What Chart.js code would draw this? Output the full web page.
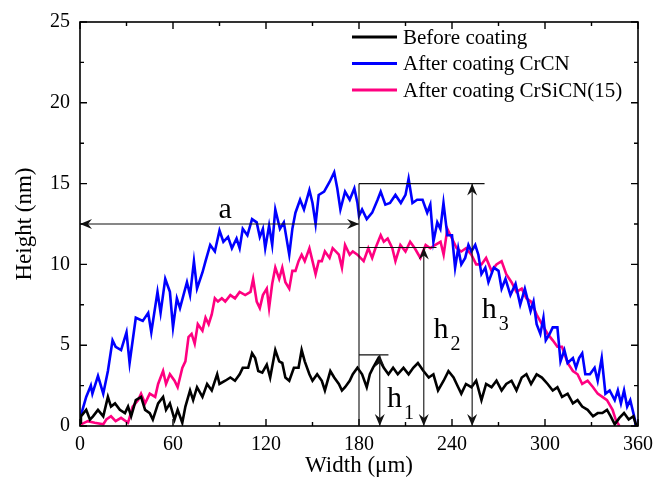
<!DOCTYPE html>
<html lang="en">
<head>
<meta charset="UTF-8">
<title>Surface profile</title>
<style>
  body { margin: 0; background: #ffffff; }
  #wrap { width: 665px; height: 485px; }
</style>
<script src="https://cdn.jsdelivr.net/npm/chart.js"></script>
</head>
<body>
<div id="wrap"><canvas id="profileChart" width="665" height="485"></canvas></div>
<script>
// ---- data (width in um, height in nm) ----
const seriesNames = ['Before coating', 'After coating CrCN', 'After coating CrSiCN(15)'];
const seriesColors = ['#000000', '#0000ff', '#ff0080'];

const beforeX = [0, 0.6, 4, 6.4, 8.4, 11.6, 15, 18, 20, 22.6, 25.7, 29, 31, 33, 36, 39.4, 42, 45, 47, 50.4, 53.6, 55.5, 58, 61, 63, 66, 68, 71, 73, 75.5, 79, 82, 85, 88.5, 90, 93.7, 97, 100, 103, 105, 108.5, 111, 113, 115, 117.6, 120.5, 122.7, 126, 128.5, 130.5, 132.5, 135, 138, 141, 143, 145, 148, 150, 153, 156, 158, 161.5, 164, 167, 169, 171, 174, 176, 179, 182, 185, 187, 189, 192.5, 196, 199, 202, 205, 208.7, 212, 215, 218, 221.6, 225, 228, 231, 234.6, 237.7, 241, 244, 246, 249, 252.5, 255.6, 259, 262, 265.5, 268.7, 272, 275, 278.4, 281.6, 285, 288, 291, 294.6, 298, 301.7, 305, 308, 311, 314.6, 318, 321, 324, 327.5, 331, 334, 337, 340, 342.4, 345, 348, 351, 354, 357, 359];
const beforeY = [0.2, 0.6, 1.0, 0.4, 0.6, 1.0, 0.6, 1.8, 1.2, 1.4, 1.0, 0.8, 1.2, 0.6, 1.6, 1.8, 1.0, 0.8, 0.4, 1.4, 1.8, 1.0, 1.4, 0.4, 1.0, 0.2, 1.2, 2.2, 1.6, 2.4, 1.8, 2.6, 2.2, 3.2, 2.6, 2.8, 3.0, 2.8, 3.2, 3.6, 3.6, 4.5, 4.2, 3.4, 3.3, 3.8, 3.0, 4.7, 4.0, 3.9, 3.0, 2.8, 3.6, 3.6, 4.7, 4.0, 3.2, 2.8, 3.2, 2.8, 2.2, 3.4, 3.0, 2.6, 2.2, 2.4, 2.8, 3.2, 3.6, 3.2, 2.4, 3.2, 3.6, 4.2, 3.6, 3.2, 3.6, 3.2, 3.6, 3.2, 3.6, 3.9, 3.4, 3.0, 3.2, 2.2, 2.8, 3.4, 3.0, 2.4, 2.0, 2.6, 2.4, 2.8, 1.6, 2.6, 2.4, 2.8, 2.2, 2.6, 2.8, 2.2, 3.0, 3.2, 2.6, 3.2, 3.0, 2.6, 2.2, 2.4, 1.8, 2.0, 1.4, 1.6, 1.2, 1.0, 0.6, 0.8, 0.8, 1.0, 0.6, 0.1, 0.5, 0.8, 0.4, 0.6, 0];

const crcnX = [0, 1, 4, 7, 8, 11.6, 15, 18, 21, 23, 26.5, 30, 32, 36, 40.5, 44, 46, 50, 52, 55, 58, 60, 62.5, 64.5, 69, 71, 73.5, 75.5, 79, 81, 84, 87, 90, 92.5, 95.5, 98, 101, 103, 105, 108, 111, 114, 116, 118, 119.5, 122, 124, 126, 129, 131.5, 135, 137, 139, 142, 144.5, 148, 150, 152, 154, 157.5, 161, 164, 166, 168, 171, 174, 177, 179, 180, 182, 185, 188.5, 192, 194, 197, 200, 203.5, 207, 210, 212, 214.5, 217.5, 221, 224, 226, 228, 230.5, 232.5, 234.5, 237, 240, 242, 244, 246, 248.5, 250.6, 252.5, 255, 257, 259, 261.5, 263.5, 267, 270, 272, 274.5, 277.7, 281, 284, 287, 290.7, 292.6, 294.6, 297, 299, 300.5, 303, 305, 308, 310, 312.5, 314.6, 318, 320, 322, 324, 326, 329, 332, 334, 336.6, 339, 341.7, 345, 347, 349, 351, 353, 355, 358, 358.5];
const crcnY = [0.4, 0.8, 1.8, 2.5, 2.0, 3.1, 2.0, 3.4, 5.3, 4.9, 4.7, 5.8, 3.9, 6.7, 6.5, 7.0, 5.8, 8.3, 7.0, 9.1, 8.3, 6.1, 7.9, 7.3, 8.9, 8.1, 10.2, 8.5, 9.5, 10.2, 11.2, 10.8, 12.1, 11.4, 11.7, 11.0, 11.6, 11.0, 12.2, 11.8, 12.8, 12.6, 11.7, 12.2, 11.0, 12.4, 11.2, 13.4, 12.2, 12.6, 10.6, 12.2, 13.2, 14.0, 13.4, 14.6, 13.8, 12.5, 14.3, 14.5, 15.1, 15.7, 14.7, 13.4, 14.5, 14.0, 14.7, 13.8, 13.0, 13.4, 12.8, 13.2, 14.0, 14.5, 13.7, 13.8, 14.3, 13.8, 14.3, 15.3, 13.8, 14.0, 14.0, 13.2, 13.7, 11.4, 12.6, 12.2, 13.8, 11.8, 11.8, 9.8, 11.0, 10.0, 10.4, 11.2, 10.8, 11.2, 10.6, 9.4, 9.8, 8.9, 9.8, 9.6, 8.5, 9.1, 8.1, 8.8, 7.5, 8.5, 7.1, 7.7, 6.3, 5.7, 6.7, 5.3, 5.7, 6.1, 6.1, 4.0, 4.7, 3.9, 4.2, 3.6, 4.2, 4.5, 3.2, 3.2, 3.6, 2.8, 4.2, 2.0, 2.2, 1.6, 2.2, 1.4, 2.2, 1.2, 1.6, 0.4, 0];

const crsicnX = [0, 0.6, 5, 9.5, 15, 17, 20, 23, 26.5, 31, 34, 37.5, 39.4, 42, 45, 48.5, 50.4, 53.6, 55.5, 58, 61, 63, 66, 68, 70, 72, 74, 76, 79, 81, 83, 85, 87, 89, 91.5, 93.7, 97, 100, 103, 106.6, 110, 111.7, 114, 116, 118, 120.5, 122, 124, 126, 128.5, 130.5, 132.5, 135, 137, 139, 141, 143, 145, 148, 150, 152, 154, 156, 158, 161, 163, 165, 167, 169, 171, 174, 176, 179, 183, 186, 188.5, 190.6, 194, 196, 198.5, 201.5, 203.5, 206.7, 210, 213, 216, 219.6, 223, 226, 229, 232.6, 234.6, 237, 240, 243, 246, 249, 252.5, 255.6, 259, 262, 265.5, 268.7, 272, 275, 278.4, 281.6, 285, 288, 291, 294.6, 298, 301.7, 305, 308, 311, 314.6, 318, 321, 324, 327.5, 331, 334, 337, 340, 343.6, 345.6, 348];
const crsicnY = [0, 0.1, 0.3, 0.2, 0.1, 0.4, 0.6, 0.3, 0.5, 0.2, 1.2, 1.6, 2.0, 1.4, 2.0, 1.8, 2.6, 3.4, 2.6, 3.2, 2.8, 2.4, 3.6, 4.0, 5.5, 5.7, 5.1, 6.3, 5.9, 6.7, 6.3, 6.9, 7.9, 7.7, 7.9, 7.7, 8.1, 7.9, 8.3, 8.1, 8.3, 9.1, 7.7, 7.3, 8.1, 8.5, 7.3, 8.8, 9.8, 9.1, 9.8, 8.9, 8.5, 9.6, 9.6, 10.2, 10.6, 10.2, 11.0, 10.2, 9.4, 10.2, 10.2, 10.8, 10.4, 11.0, 10.8, 10.6, 9.8, 11.2, 10.6, 10.8, 10.6, 10.2, 11.0, 10.4, 11.0, 11.8, 11.4, 11.6, 11.0, 10.2, 11.2, 10.8, 11.4, 11.0, 10.4, 11.2, 11.0, 11.2, 11.4, 10.6, 12.2, 11.6, 11.0, 10.8, 11.0, 10.6, 10.0, 10.0, 10.4, 9.6, 10.0, 10.2, 9.4, 8.9, 8.3, 8.5, 7.9, 7.7, 6.9, 6.3, 5.7, 5.3, 4.9, 4.9, 3.9, 3.4, 3.2, 2.6, 2.8, 2.4, 2.0, 1.8, 1.6, 1.0, 0.4, 0];

// axis ticks
const xTicks = [0, 60, 120, 180, 240, 300, 360];
const yTicks = [0, 5, 10, 15, 20, 25];

// annotation geometry in data units
const widthArrowY = 12.5;          // "a"
const edgeX = 180;
const h1 = { x: 193.4, top: 4.4, capTo: 199 };
const h2 = { x: 221.8, top: 11.05, capTo: 230 };
const h3 = { x: 253, top: 15.0, capTo: 261 };

function toPoints(xs, ys) {
  return xs.map((x, i) => ({ x: x, y: ys[i] }));
}

const serif = "'Liberation Serif', 'Times New Roman', serif";

function arrowHead(ctx, x, y, angle) {
  ctx.save();
  ctx.translate(x, y);
  ctx.rotate(angle);
  ctx.beginPath();
  ctx.moveTo(0, 0);
  ctx.lineTo(-12, -5);
  ctx.lineTo(-8, 0);
  ctx.lineTo(-12, 5);
  ctx.closePath();
  ctx.fill();
  ctx.restore();
}

const decorPlugin = {
  id: 'decor',
  afterDatasetsDraw(chart) {
    const ctx = chart.ctx;
    const area = chart.chartArea;
    const xs = chart.scales.x;
    const ys = chart.scales.y;
    const px = v => xs.getPixelForValue(v);
    const py = v => ys.getPixelForValue(v);

    ctx.save();
    // frame
    ctx.strokeStyle = '#000';
    ctx.lineWidth = 1.6;
    ctx.strokeRect(area.left, area.top, area.right - area.left, area.bottom - area.top);

    // inward ticks on all four sides
    ctx.lineWidth = 1.4;
    ctx.beginPath();
    for (let v = 0; v <= 360; v += 30) {
      const len = v % 60 === 0 ? 7 : 4;
      ctx.moveTo(px(v), area.bottom); ctx.lineTo(px(v), area.bottom - len);
      ctx.moveTo(px(v), area.top); ctx.lineTo(px(v), area.top + len);
    }
    for (let v = 0; v <= 25; v += 2.5) {
      const len = v % 5 === 0 ? 7 : 4;
      ctx.moveTo(area.left, py(v)); ctx.lineTo(area.left + len, py(v));
      ctx.moveTo(area.right, py(v)); ctx.lineTo(area.right - len, py(v));
    }
    ctx.stroke();

    // measurement lines
    ctx.strokeStyle = '#111';
    ctx.fillStyle = '#111';
    ctx.lineWidth = 1.1;
    ctx.beginPath();
    ctx.moveTo(px(0), py(widthArrowY)); ctx.lineTo(px(edgeX), py(widthArrowY));
    ctx.moveTo(px(edgeX), py(0)); ctx.lineTo(px(edgeX), py(h3.top));
    [h1, h2, h3].forEach(h => {
      ctx.moveTo(px(edgeX), py(h.top)); ctx.lineTo(px(h.capTo), py(h.top));
      ctx.moveTo(px(h.x), py(h.top)); ctx.lineTo(px(h.x), py(0));
    });
    ctx.stroke();
    arrowHead(ctx, px(0), py(widthArrowY), Math.PI);
    arrowHead(ctx, px(edgeX), py(widthArrowY), 0);
    [h1, h2, h3].forEach(h => {
      arrowHead(ctx, px(h.x), py(h.top), -Math.PI / 2);
      arrowHead(ctx, px(h.x), py(0), Math.PI / 2);
    });

    // labels
    ctx.fillStyle = '#000';
    ctx.textBaseline = 'alphabetic';
    ctx.textAlign = 'center';
    ctx.font = '30px ' + serif;
    ctx.fillText('a', px(93.7), py(12.85));
    ctx.textAlign = 'left';
    const hLabels = [['1', 198.1, 1.18], ['2', 228, 5.47], ['3', 259.2, 6.7]];
    hLabels.forEach(l => {
      ctx.font = '30px ' + serif;
      ctx.fillText('h', px(l[1]), py(l[2]));
      ctx.font = '20px ' + serif;
      ctx.fillText(l[0], px(l[1]) + 17, py(l[2]) + 12);
    });

    // legend
    ctx.font = '21px ' + serif;
    ctx.textBaseline = 'middle';
    chart.data.datasets.forEach((ds, i) => {
      const y = 37 + i * 26.5;
      ctx.strokeStyle = ds.borderColor;
      ctx.lineWidth = 3;
      ctx.beginPath();
      ctx.moveTo(352, y); ctx.lineTo(397, y);
      ctx.stroke();
      ctx.fillStyle = '#000';
      ctx.fillText(ds.label, 403, y + 1);
    });
    ctx.restore();
  }
};

const seriesX = [beforeX, crcnX, crsicnX];
const seriesY = [beforeY, crcnY, crsicnY];

new Chart(document.getElementById('profileChart'), {
  type: 'line',
  data: {
    datasets: seriesNames.map((name, i) => ({
      label: name,
      data: toPoints(seriesX[i], seriesY[i]),
      borderColor: seriesColors[i],
      borderWidth: 2.6,
      pointRadius: 0,
      tension: 0,
      fill: false
    }))
  },
  options: {
    responsive: false,
    animation: false,
    devicePixelRatio: 1,
    layout: { padding: { top: 18, right: 27, left: 0, bottom: 0 } },
    plugins: { legend: { display: false }, tooltip: { enabled: false } },
    scales: {
      x: {
        type: 'linear',
        min: 0, max: 360,
        afterFit: s => { s.height = 59; },
        afterBuildTicks: s => { s.ticks = xTicks.map(v => ({ value: v })); },
        grid: { display: false, drawTicks: false },
        border: { display: false },
        ticks: { padding: 7, color: '#000', font: { family: serif, size: 20 } },
        title: { display: true, text: 'Width (\u03bcm)', color: '#000', padding: { top: 0, bottom: 5 }, font: { family: serif, size: 23 } }
      },
      y: {
        min: 0, max: 25,
        afterFit: s => { s.width = 80; },
        afterBuildTicks: s => { s.ticks = yTicks.map(v => ({ value: v })); },
        grid: { display: false, drawTicks: false },
        border: { display: false },
        ticks: { padding: 10, color: '#000', font: { family: serif, size: 20 } },
        title: { display: true, text: 'Height (nm)', color: '#000', padding: { top: 11, bottom: 0 }, font: { family: serif, size: 23 } }
      }
    }
  },
  plugins: [decorPlugin]
});
</script>
</body>
</html>
